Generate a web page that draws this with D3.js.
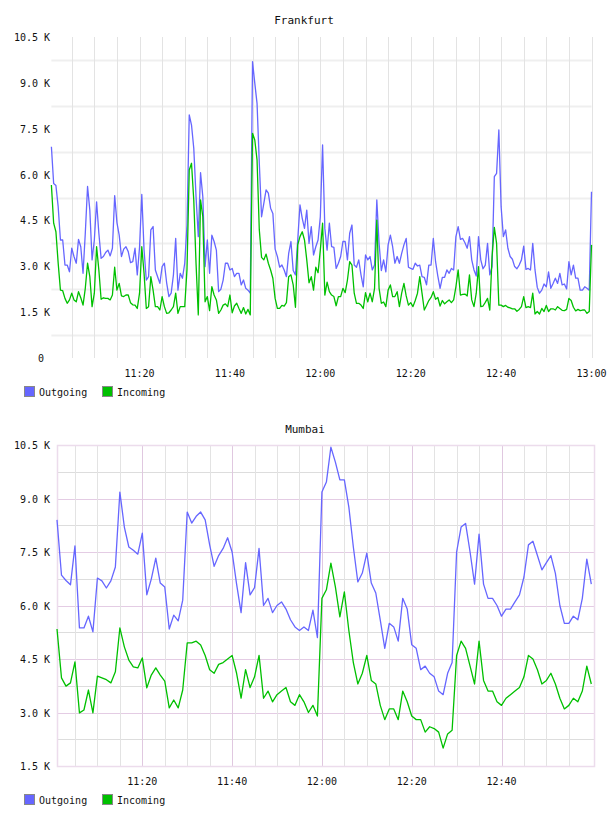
<!DOCTYPE html>
<html><head><meta charset="utf-8">
<script src="https://cdn.jsdelivr.net/npm/d3@7"></script>
<style>
body{margin:0;background:#fff;}
text{font-family:"DejaVu Sans Mono",monospace;fill:#111;}
</style></head>
<body>
<svg id="c" width="608" height="816"></svg>
<script>
// ---------- DATA ----------
const seriesNames = ["Outgoing", "Incoming"];
const seriesColors = ["#6666ff", "#00c000"];
const frankfurtTickLabels = ["11:20", "11:40", "12:00", "12:20", "12:40", "13:00"];
const mumbaiTickLabels = ["11:20", "11:40", "12:00", "12:20", "12:40"];

// Frankfurt: samples every 30 s, first at 11:00:30 (values in K)
const frankfurtStartMin = 0.5, frankfurtStepMin = 0.5;
const frankfurtOutgoing = [
6.91,5.71,5.64,4.95,3.86,3.86,3.04,3.04,2.82,3.59,
3.32,3.10,3.88,3.64,2.77,4.08,5.61,4.84,3.21,3.86,
5.11,4.08,3.26,3.32,3.45,3.53,3.34,3.59,5.31,4.43,
4.02,3.32,3.56,3.64,3.48,3.12,3.15,3.59,2.72,3.62,
5.35,3.53,2.55,2.66,4.19,4.30,2.88,2.66,2.44,2.99,
3.10,2.46,2.01,2.12,2.72,3.91,2.22,2.77,2.61,3.10,
4.35,7.95,7.62,6.86,5.28,3.97,6.06,5.28,2.99,3.86,
2.77,4.02,3.81,3.53,2.17,2.25,2.55,3.10,3.10,2.88,
2.93,2.66,2.77,2.77,2.39,2.55,2.28,2.22,2.12,9.69,
8.99,8.33,6.37,4.62,5.06,5.50,5.39,4.90,4.73,3.56,
3.32,2.97,3.04,2.88,2.66,3.42,3.81,2.86,2.72,3.86,
5.01,4.57,4.24,4.84,3.75,4.30,3.37,3.64,3.86,4.62,
6.97,4.24,3.53,4.41,3.64,3.62,2.93,3.10,3.32,3.81,
3.81,3.21,4.08,4.35,3.04,2.97,3.21,2.72,2.33,3.37,
3.21,3.32,2.88,3.04,5.17,3.75,2.86,3.21,2.82,3.70,
4.02,3.64,3.10,3.32,3.10,3.42,3.70,3.91,2.97,2.93,
2.90,3.10,3.01,3.04,2.66,2.64,2.39,3.04,3.04,3.91,
3.15,2.68,2.28,2.64,2.64,2.88,2.77,2.93,2.88,3.97,
4.30,3.88,3.91,3.77,3.59,3.97,3.21,2.88,2.68,3.97,
3.21,2.92,3.04,3.75,2.72,2.99,5.93,6.04,7.46,4.95,
3.97,4.19,3.59,3.32,3.23,2.99,2.92,3.04,3.21,3.66,
2.90,2.93,2.88,3.75,2.88,2.31,2.12,2.22,2.42,2.33,
2.82,2.28,2.44,2.61,2.44,2.77,2.39,2.42,2.26,3.15,
2.72,3.04,2.61,2.61,2.22,2.22,2.33,2.28,2.22,5.44];
const frankfurtIncoming = [
5.66,4.41,4.13,3.10,2.22,2.20,1.95,1.79,1.90,2.12,
1.90,1.84,2.17,1.97,1.73,2.28,3.10,2.66,1.68,2.12,
3.64,2.88,1.92,1.97,1.95,1.95,1.90,2.06,2.97,2.22,
2.44,2.03,2.01,2.06,2.06,1.81,1.74,1.73,1.62,2.12,
3.64,2.77,1.62,1.68,2.66,2.22,1.68,1.68,1.57,2.01,
1.68,1.46,1.48,1.57,1.68,2.12,1.46,1.68,1.68,1.68,
2.90,6.15,6.37,5.17,3.10,1.41,5.17,4.62,1.84,2.01,
1.55,2.33,2.06,1.90,1.46,1.57,1.73,1.77,1.68,2.06,
1.48,1.70,1.79,1.62,1.46,1.65,1.44,1.59,1.41,7.35,
7.13,6.48,4.19,3.29,3.21,3.40,3.10,2.88,2.61,1.95,
1.62,1.62,1.72,1.70,1.81,2.66,2.72,2.39,1.66,3.70,
3.97,4.13,3.86,3.21,2.46,2.66,2.22,2.97,2.79,3.53,
4.41,2.06,2.48,2.17,2.06,2.01,1.71,2.01,2.01,2.28,
2.14,2.55,3.15,3.04,2.12,1.79,1.79,1.73,1.62,2.14,
1.84,2.12,1.84,2.28,4.51,2.28,1.79,1.83,1.68,2.22,
2.39,2.01,2.01,2.17,1.68,2.12,2.44,2.03,1.73,1.81,
1.68,1.88,2.12,2.66,2.12,1.57,1.72,1.88,1.98,2.17,
1.92,1.98,1.70,1.88,1.77,1.84,1.90,1.81,1.90,2.33,
2.88,2.06,2.08,2.09,2.03,2.72,1.90,1.68,2.12,2.99,
1.68,1.70,1.82,1.95,1.57,3.32,4.27,3.75,1.73,1.73,
1.68,1.72,1.66,1.64,1.61,1.61,1.53,1.59,1.68,2.01,
1.65,1.68,1.65,2.12,1.44,1.52,1.44,1.62,1.52,1.72,
1.52,1.61,1.61,1.57,1.68,1.62,1.56,1.55,1.59,1.95,
1.88,1.66,1.54,1.59,1.55,1.57,1.57,1.46,1.52,3.70];

// Mumbai: samples every minute, first at 11:01 (values in K)
const mumbaiStartMin = 1, mumbaiStepMin = 1;
const mumbaiOutgoing = [
8.40,6.85,6.70,6.58,7.67,5.37,5.37,5.70,5.26,6.77,
6.69,6.49,6.69,7.08,9.18,8.20,7.64,7.55,7.44,8.03,
6.30,6.74,7.33,6.63,6.52,5.34,5.73,5.57,6.15,8.62,
8.31,8.50,8.62,8.40,7.70,7.10,7.40,7.60,7.90,7.50,
6.60,5.80,7.20,6.30,6.50,7.60,6.00,6.20,5.80,6.00,
6.10,5.90,5.60,5.40,5.30,5.40,5.30,5.87,5.10,9.18,
9.46,10.44,10.02,9.52,9.52,8.76,7.64,6.66,6.91,7.47,
6.63,6.35,5.59,4.80,5.50,5.40,5.00,6.20,5.90,4.90,
4.80,4.20,4.30,4.10,4.00,3.60,3.50,4.10,4.40,7.50,
8.20,8.30,7.50,6.60,8.00,6.60,6.20,6.20,6.00,5.70,
5.90,5.90,6.10,6.30,6.80,7.70,7.80,7.40,7.00,7.20,
7.40,6.90,6.00,5.50,5.50,5.70,5.60,6.20,7.30,6.60];
const mumbaiIncoming = [
5.34,3.97,3.74,3.83,4.42,2.99,3.07,3.63,2.99,4.02,
3.97,3.92,3.83,4.14,5.37,4.84,4.47,4.28,4.25,4.53,
3.69,4.05,4.25,4.05,3.88,3.13,3.35,3.13,3.63,4.95,
4.95,5.00,4.89,4.60,4.20,4.10,4.35,4.40,4.50,4.60,
4.10,3.40,4.20,3.70,4.00,4.60,3.40,3.60,3.30,3.50,
3.60,3.70,3.30,3.20,3.50,3.30,3.00,3.20,2.90,6.20,
6.44,7.19,6.52,5.68,6.38,5.30,4.40,3.80,4.10,4.60,
3.90,3.80,3.20,2.80,3.10,3.10,2.80,3.60,3.30,2.90,
2.80,2.80,2.45,2.60,2.55,2.45,2.00,2.40,2.50,4.60,
5.00,4.80,4.30,3.80,5.00,3.90,3.60,3.60,3.30,3.20,
3.40,3.50,3.60,3.70,4.00,4.60,4.50,4.20,3.80,3.90,
4.10,3.80,3.40,3.10,3.20,3.40,3.30,3.60,4.30,3.80];

// ---------- DRAW ----------
const svg = d3.select("#c");
const toMin = s => { const [h, m] = s.split(":").map(Number); return (h - 11) * 60 + m; };
const fmtK = v => v === 0 ? "0" : (v / 1000).toFixed(1) + " K";

function drawChart(cfg) {
  const g = svg.append("g");
  const x = d3.scaleLinear().domain(cfg.xDomain).range([cfg.left, cfg.right]);
  const y = d3.scaleLinear().domain(cfg.yDomain).range([cfg.bottom, cfg.top]);

  g.append("text").attr("x", cfg.titleX).attr("y", cfg.titleY)
    .attr("text-anchor", "middle").style("font-size", "11px").text(cfg.title);

  const hv = d3.range(cfg.yDomain[0] + cfg.hStart, cfg.yDomain[1] + 1, cfg.hStep);
  g.selectAll(".hg").data(hv).join("line")
    .attr("x1", cfg.left).attr("x2", cfg.right)
    .attr("y1", d => Math.round(y(d)) + 0.5).attr("y2", d => Math.round(y(d)) + 0.5)
    .attr("stroke", d => cfg.hColor(d)).attr("stroke-width", cfg.hWidth);

  const vv = d3.range(5, 121, 5).filter(m => m > cfg.xDomain[0] && m <= cfg.vMax);
  g.selectAll(".vg").data(vv).join("line")
    .attr("x1", d => Math.round(x(d)) + 0.5).attr("x2", d => Math.round(x(d)) + 0.5)
    .attr("y1", cfg.top).attr("y2", cfg.bottom)
    .attr("stroke", d => cfg.vColor(d)).attr("stroke-width", 1);

  if (cfg.border) {
    g.append("rect").attr("x", cfg.left + 0.5).attr("y", cfg.top + 0.5)
      .attr("width", cfg.right - cfg.left).attr("height", cfg.bottom - cfg.top)
      .attr("fill", "none").attr("stroke", cfg.border).attr("stroke-width", 1.5);
  }

  const yt = d3.range(cfg.yDomain[0], cfg.yDomain[1] + 1, 1500);
  g.selectAll(".yl").data(yt).join("text")
    .attr("x", d => d === 0 ? 44 : 50).attr("y", d => y(d) + 4)
    .attr("text-anchor", "end").style("font-size", "10px").text(fmtK);

  g.selectAll(".xl").data(cfg.xLabels).join("text")
    .attr("x", d => x(toMin(d))).attr("y", cfg.bottom + 19)
    .attr("text-anchor", "middle").style("font-size", "10px").text(d => d);

  const line = d3.line().x(d => x(d[0])).y(d => y(d[1]));
  cfg.series.forEach((s, k) => {
    const pts = s.map((v, i) => [cfg.start + i * cfg.step, v * 1000]);
    g.append("path").datum(pts).attr("d", line).attr("fill", "none")
      .attr("stroke", seriesColors[k]).attr("stroke-width", 1.3)
      .attr("stroke-linejoin", "round");
  });

  const lg = g.append("g");
  [0, 1].forEach(k => {
    const lx = 24 + k * 78;
    lg.append("rect").attr("x", lx + 0.5).attr("y", cfg.legendY - 5.5)
      .attr("width", 10).attr("height", 10)
      .attr("fill", seriesColors[k]).attr("stroke", "#888").attr("stroke-width", 1);
    lg.append("text").attr("x", lx + 15).attr("y", cfg.legendY + 4)
      .style("font-size", "10px").text(seriesNames[k]);
  });
}

drawChart({
  title: "Frankfurt", titleX: 304, titleY: 24,
  left: 51.4, right: 591.5, top: 37, bottom: 358,
  xDomain: [0.5, 120], yDomain: [0, 10500], vMax: 120,
  hStart: 750, hStep: 1500, hWidth: 2, hColor: () => "#efefef",
  vColor: () => "#e3e3e3", border: null, xLabels: frankfurtTickLabels,
  start: frankfurtStartMin, step: frankfurtStepMin,
  series: [frankfurtOutgoing, frankfurtIncoming], legendY: 392
});

drawChart({
  title: "Mumbai", titleX: 305, titleY: 433,
  left: 57, right: 594, top: 445, bottom: 766,
  xDomain: [1, 120.6], yDomain: [1500, 10500], vMax: 115,
  hStart: 750, hStep: 750, hWidth: 1,
  hColor: d => ((d - 1500) % 1500 === 0) ? "#e4cce4" : "#dddddd",
  vColor: d => (d % 20 === 0) ? "#e0c8e0" : "#e3e3e3", border: "#ecdcec",
  xLabels: mumbaiTickLabels,
  start: mumbaiStartMin, step: mumbaiStepMin,
  series: [mumbaiOutgoing, mumbaiIncoming], legendY: 800
});
</script>
</body></html>
